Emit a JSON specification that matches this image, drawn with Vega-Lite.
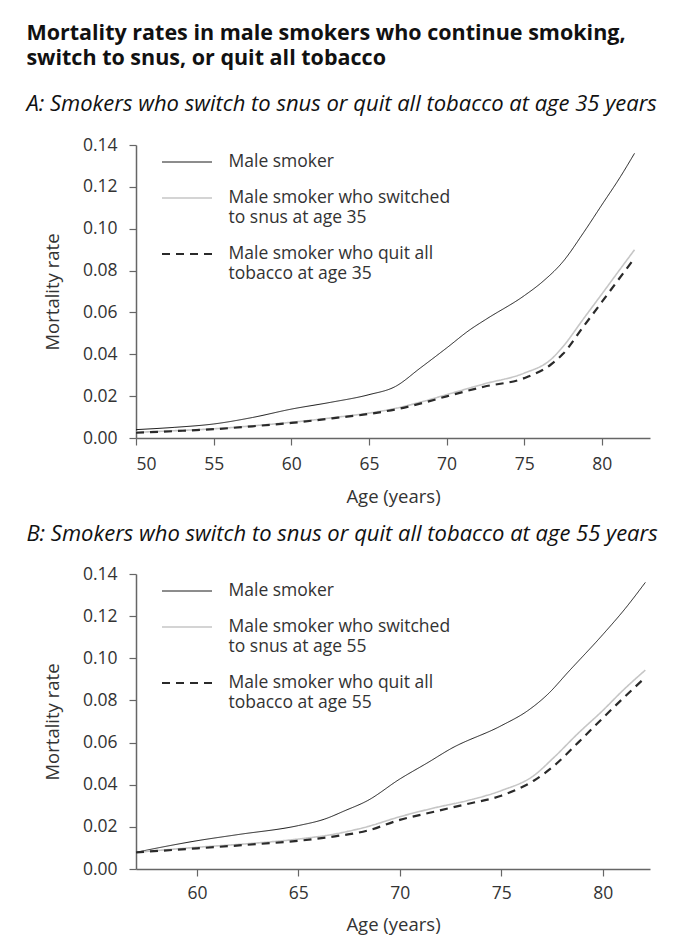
{
  "$schema": "https://vega.github.io/schema/vega-lite/v6.json",
  "padding": {"left": 26, "top": 22, "right": 6, "bottom": 4},
  "background": "white",
  "title": {
    "text": ["Mortality rates in male smokers who continue smoking,", "switch to snus, or quit all tobacco"],
    "anchor": "start",
    "fontSize": 21.5,
    "fontWeight": "bold",
    "fontStyle": "normal",
    "lineHeight": 25,
    "color": "#111111",
    "offset": 24
  },
  "datasets": {
    "a": [
      {"age": 50, "rate": 0.0040, "series": "Male smoker"},
      {"age": 52.5, "rate": 0.0051, "series": "Male smoker"},
      {"age": 55, "rate": 0.0067, "series": "Male smoker"},
      {"age": 57.5, "rate": 0.0098, "series": "Male smoker"},
      {"age": 60, "rate": 0.0138, "series": "Male smoker"},
      {"age": 62.5, "rate": 0.0170, "series": "Male smoker"},
      {"age": 65, "rate": 0.0207, "series": "Male smoker"},
      {"age": 66.7, "rate": 0.0246, "series": "Male smoker"},
      {"age": 68.3, "rate": 0.0334, "series": "Male smoker"},
      {"age": 70, "rate": 0.0430, "series": "Male smoker"},
      {"age": 71.5, "rate": 0.0517, "series": "Male smoker"},
      {"age": 72.6, "rate": 0.0570, "series": "Male smoker"},
      {"age": 75, "rate": 0.0680, "series": "Male smoker"},
      {"age": 76.2, "rate": 0.0748, "series": "Male smoker"},
      {"age": 77.5, "rate": 0.0843, "series": "Male smoker"},
      {"age": 78.8, "rate": 0.0979, "series": "Male smoker"},
      {"age": 80, "rate": 0.1114, "series": "Male smoker"},
      {"age": 81.2, "rate": 0.1249, "series": "Male smoker"},
      {"age": 82.1, "rate": 0.1360, "series": "Male smoker"},
      {"age": 50, "rate": 0.0027, "series": "Male smoker who switched to snus at age 35"},
      {"age": 52.5, "rate": 0.0035, "series": "Male smoker who switched to snus at age 35"},
      {"age": 55, "rate": 0.0044, "series": "Male smoker who switched to snus at age 35"},
      {"age": 57.5, "rate": 0.0058, "series": "Male smoker who switched to snus at age 35"},
      {"age": 60, "rate": 0.0075, "series": "Male smoker who switched to snus at age 35"},
      {"age": 63, "rate": 0.0100, "series": "Male smoker who switched to snus at age 35"},
      {"age": 65, "rate": 0.0119, "series": "Male smoker who switched to snus at age 35"},
      {"age": 66.8, "rate": 0.0143, "series": "Male smoker who switched to snus at age 35"},
      {"age": 68.5, "rate": 0.0175, "series": "Male smoker who switched to snus at age 35"},
      {"age": 70, "rate": 0.0207, "series": "Male smoker who switched to snus at age 35"},
      {"age": 72.4, "rate": 0.0258, "series": "Male smoker who switched to snus at age 35"},
      {"age": 75, "rate": 0.0310, "series": "Male smoker who switched to snus at age 35"},
      {"age": 76.7, "rate": 0.0374, "series": "Male smoker who switched to snus at age 35"},
      {"age": 77.5, "rate": 0.0437, "series": "Male smoker who switched to snus at age 35"},
      {"age": 78.8, "rate": 0.0568, "series": "Male smoker who switched to snus at age 35"},
      {"age": 80, "rate": 0.0688, "series": "Male smoker who switched to snus at age 35"},
      {"age": 81, "rate": 0.0789, "series": "Male smoker who switched to snus at age 35"},
      {"age": 82.1, "rate": 0.0899, "series": "Male smoker who switched to snus at age 35"},
      {"age": 50, "rate": 0.0025, "series": "Male smoker who quit all tobacco at age 35"},
      {"age": 52.5, "rate": 0.0033, "series": "Male smoker who quit all tobacco at age 35"},
      {"age": 55, "rate": 0.0042, "series": "Male smoker who quit all tobacco at age 35"},
      {"age": 57.5, "rate": 0.0056, "series": "Male smoker who quit all tobacco at age 35"},
      {"age": 60, "rate": 0.0072, "series": "Male smoker who quit all tobacco at age 35"},
      {"age": 63, "rate": 0.0097, "series": "Male smoker who quit all tobacco at age 35"},
      {"age": 65, "rate": 0.0115, "series": "Male smoker who quit all tobacco at age 35"},
      {"age": 66.8, "rate": 0.0138, "series": "Male smoker who quit all tobacco at age 35"},
      {"age": 68.5, "rate": 0.0168, "series": "Male smoker who quit all tobacco at age 35"},
      {"age": 70, "rate": 0.0199, "series": "Male smoker who quit all tobacco at age 35"},
      {"age": 72.4, "rate": 0.0245, "series": "Male smoker who quit all tobacco at age 35"},
      {"age": 75, "rate": 0.0286, "series": "Male smoker who quit all tobacco at age 35"},
      {"age": 76.7, "rate": 0.0350, "series": "Male smoker who quit all tobacco at age 35"},
      {"age": 77.5, "rate": 0.0402, "series": "Male smoker who quit all tobacco at age 35"},
      {"age": 78.8, "rate": 0.0531, "series": "Male smoker who quit all tobacco at age 35"},
      {"age": 80, "rate": 0.0650, "series": "Male smoker who quit all tobacco at age 35"},
      {"age": 81, "rate": 0.0750, "series": "Male smoker who quit all tobacco at age 35"},
      {"age": 82.1, "rate": 0.0859, "series": "Male smoker who quit all tobacco at age 35"}
    ],
    "b": [
      {"age": 57, "rate": 0.0079, "series": "Male smoker"},
      {"age": 58.5, "rate": 0.0108, "series": "Male smoker"},
      {"age": 60, "rate": 0.0134, "series": "Male smoker"},
      {"age": 62, "rate": 0.0163, "series": "Male smoker"},
      {"age": 65, "rate": 0.0206, "series": "Male smoker"},
      {"age": 66.3, "rate": 0.0237, "series": "Male smoker"},
      {"age": 67.3, "rate": 0.0277, "series": "Male smoker"},
      {"age": 68.4, "rate": 0.0324, "series": "Male smoker"},
      {"age": 70, "rate": 0.0427, "series": "Male smoker"},
      {"age": 71.4, "rate": 0.0506, "series": "Male smoker"},
      {"age": 72.5, "rate": 0.0570, "series": "Male smoker"},
      {"age": 75, "rate": 0.0680, "series": "Male smoker"},
      {"age": 76.3, "rate": 0.0751, "series": "Male smoker"},
      {"age": 77.3, "rate": 0.0830, "series": "Male smoker"},
      {"age": 78.3, "rate": 0.0935, "series": "Male smoker"},
      {"age": 80, "rate": 0.1112, "series": "Male smoker"},
      {"age": 81.1, "rate": 0.1235, "series": "Male smoker"},
      {"age": 82.1, "rate": 0.1360, "series": "Male smoker"},
      {"age": 57, "rate": 0.0079, "series": "Male smoker who switched to snus at age 55"},
      {"age": 60, "rate": 0.0103, "series": "Male smoker who switched to snus at age 55"},
      {"age": 62.5, "rate": 0.0120, "series": "Male smoker who switched to snus at age 55"},
      {"age": 65, "rate": 0.0142, "series": "Male smoker who switched to snus at age 55"},
      {"age": 66.8, "rate": 0.0166, "series": "Male smoker who switched to snus at age 55"},
      {"age": 68.4, "rate": 0.0201, "series": "Male smoker who switched to snus at age 55"},
      {"age": 70, "rate": 0.0248, "series": "Male smoker who switched to snus at age 55"},
      {"age": 71.7, "rate": 0.0290, "series": "Male smoker who switched to snus at age 55"},
      {"age": 73.3, "rate": 0.0324, "series": "Male smoker who switched to snus at age 55"},
      {"age": 75, "rate": 0.0372, "series": "Male smoker who switched to snus at age 55"},
      {"age": 76.6, "rate": 0.0443, "series": "Male smoker who switched to snus at age 55"},
      {"age": 77.6, "rate": 0.0530, "series": "Male smoker who switched to snus at age 55"},
      {"age": 78.8, "rate": 0.0645, "series": "Male smoker who switched to snus at age 55"},
      {"age": 80, "rate": 0.0752, "series": "Male smoker who switched to snus at age 55"},
      {"age": 81, "rate": 0.0848, "series": "Male smoker who switched to snus at age 55"},
      {"age": 82.1, "rate": 0.0944, "series": "Male smoker who switched to snus at age 55"},
      {"age": 57, "rate": 0.0079, "series": "Male smoker who quit all tobacco at age 55"},
      {"age": 60, "rate": 0.0098, "series": "Male smoker who quit all tobacco at age 55"},
      {"age": 62.5, "rate": 0.0115, "series": "Male smoker who quit all tobacco at age 55"},
      {"age": 65, "rate": 0.0134, "series": "Male smoker who quit all tobacco at age 55"},
      {"age": 66.8, "rate": 0.0155, "series": "Male smoker who quit all tobacco at age 55"},
      {"age": 68.4, "rate": 0.0182, "series": "Male smoker who quit all tobacco at age 55"},
      {"age": 70, "rate": 0.0233, "series": "Male smoker who quit all tobacco at age 55"},
      {"age": 71.7, "rate": 0.0272, "series": "Male smoker who quit all tobacco at age 55"},
      {"age": 73.3, "rate": 0.0308, "series": "Male smoker who quit all tobacco at age 55"},
      {"age": 75, "rate": 0.0348, "series": "Male smoker who quit all tobacco at age 55"},
      {"age": 76.6, "rate": 0.0419, "series": "Male smoker who quit all tobacco at age 55"},
      {"age": 77.6, "rate": 0.0490, "series": "Male smoker who quit all tobacco at age 55"},
      {"age": 78.8, "rate": 0.0601, "series": "Male smoker who quit all tobacco at age 55"},
      {"age": 80, "rate": 0.0716, "series": "Male smoker who quit all tobacco at age 55"},
      {"age": 81, "rate": 0.0810, "series": "Male smoker who quit all tobacco at age 55"},
      {"age": 82.1, "rate": 0.0909, "series": "Male smoker who quit all tobacco at age 55"}
    ]
  },
  "spacing": 17,
  "vconcat": [
    {
      "width": 514,
      "height": 293,
      "title": {"text": "A: Smokers who switch to snus or quit all tobacco at age 35 years", "dx": -17, "offset": 20},
      "data": {"name": "a"},
      "mark": {"type": "line", "interpolate": "monotone"},
      "encoding": {
        "x": {"field": "age", "type": "quantitative", "title": "Age (years)",
              "scale": {"domain": [50, 83.1], "nice": false, "zero": false},
              "axis": {"values": [50, 55, 60, 65, 70, 75, 80]}},
        "y": {"field": "rate", "type": "quantitative", "title": "Mortality rate",
              "scale": {"domain": [0, 0.14], "nice": false},
              "axis": {"values": [0, 0.02, 0.04, 0.06, 0.08, 0.1, 0.12, 0.14], "format": ".2f"}},
        "color": {"field": "series", "type": "nominal",
                  "scale": {"domain": ["Male smoker", "Male smoker who switched to snus at age 35", "Male smoker who quit all tobacco at age 35"], "range": ["#1a1a1a", "#c6c6c6", "#2a2a2a"]},
                  "legend": {"symbolType": "M-2.5,0H2.5", "labelExpr": "datum.label == 'Male smoker' ? datum.label : [slice(datum.label, 0, 24), slice(datum.label, 25)]"}},
        "strokeDash": {"field": "series", "type": "nominal",
                  "scale": {"domain": ["Male smoker", "Male smoker who switched to snus at age 35", "Male smoker who quit all tobacco at age 35"], "range": [[1, 0], [1, 0], [8, 6]]},
                  "legend": {"symbolType": "M-2.5,0H2.5", "labelExpr": "datum.label == 'Male smoker' ? datum.label : [slice(datum.label, 0, 24), slice(datum.label, 25)]"}},
        "strokeWidth": {"field": "series", "type": "nominal",
                  "scale": {"domain": ["Male smoker", "Male smoker who switched to snus at age 35", "Male smoker who quit all tobacco at age 35"], "range": [1, 2.2, 1.1]},
                  "legend": {"symbolType": "M-2.5,0H2.5", "labelExpr": "datum.label == 'Male smoker' ? datum.label : [slice(datum.label, 0, 24), slice(datum.label, 25)]"}}
      }
    },
    {
      "width": 514,
      "height": 295,
      "title": {"text": "B: Smokers who switch to snus or quit all tobacco at age 55 years", "dx": -17, "offset": 19},
      "data": {"name": "b"},
      "mark": {"type": "line", "interpolate": "monotone"},
      "encoding": {
        "x": {"field": "age", "type": "quantitative", "title": "Age (years)",
              "scale": {"domain": [57, 82.33], "nice": false, "zero": false},
              "axis": {"values": [60, 65, 70, 75, 80], "labelPadding": 8, "titlePadding": 14}},
        "y": {"field": "rate", "type": "quantitative", "title": "Mortality rate",
              "scale": {"domain": [0, 0.14], "nice": false},
              "axis": {"values": [0, 0.02, 0.04, 0.06, 0.08, 0.1, 0.12, 0.14], "format": ".2f"}},
        "color": {"field": "series", "type": "nominal",
                  "scale": {"domain": ["Male smoker", "Male smoker who switched to snus at age 55", "Male smoker who quit all tobacco at age 55"], "range": ["#1a1a1a", "#c6c6c6", "#2a2a2a"]},
                  "legend": {"symbolType": "M-2.5,0H2.5", "labelExpr": "datum.label == 'Male smoker' ? datum.label : [slice(datum.label, 0, 24), slice(datum.label, 25)]"}},
        "strokeDash": {"field": "series", "type": "nominal",
                  "scale": {"domain": ["Male smoker", "Male smoker who switched to snus at age 55", "Male smoker who quit all tobacco at age 55"], "range": [[1, 0], [1, 0], [8, 6]]},
                  "legend": {"symbolType": "M-2.5,0H2.5", "labelExpr": "datum.label == 'Male smoker' ? datum.label : [slice(datum.label, 0, 24), slice(datum.label, 25)]"}},
        "strokeWidth": {"field": "series", "type": "nominal",
                  "scale": {"domain": ["Male smoker", "Male smoker who switched to snus at age 55", "Male smoker who quit all tobacco at age 55"], "range": [1, 2.2, 1.1]},
                  "legend": {"symbolType": "M-2.5,0H2.5", "labelExpr": "datum.label == 'Male smoker' ? datum.label : [slice(datum.label, 0, 24), slice(datum.label, 25)]"}}
      }
    }
  ],
  "resolve": {"scale": {"color": "independent", "strokeDash": "independent", "strokeWidth": "independent"}, "legend": {"color": "independent", "strokeDash": "independent", "strokeWidth": "independent"}},
  "config": {
    "font": "Open Sans",
    "view": {"stroke": null},
    "title": {"anchor": "start", "fontSize": 22, "fontStyle": "italic", "fontWeight": "normal", "color": "#111111", "offset": 20},
    "axis": {"grid": false, "domainColor": "#666666", "domainWidth": 1.5, "tickColor": "#666666", "tickWidth": 1.2, "tickSize": 7,
             "labelFontSize": 17.5, "labelColor": "#333333", "titleFontSize": 18.5, "titleFontWeight": "normal", "titleColor": "#333333"},
    "axisY": {"titlePadding": 20, "labelPadding": 12},
    "axisX": {"titlePadding": 15, "labelPadding": 10},
    "legend": {"orient": "none", "legendX": 39.5, "legendY": 6.5, "title": null, "symbolSize": 400,
               "labelFontSize": 17.5, "labelColor": "#333333", "labelLimit": 400, "rowPadding": 16.5, "labelOffset": 30, "labelLineHeight": 22}
  }
}
